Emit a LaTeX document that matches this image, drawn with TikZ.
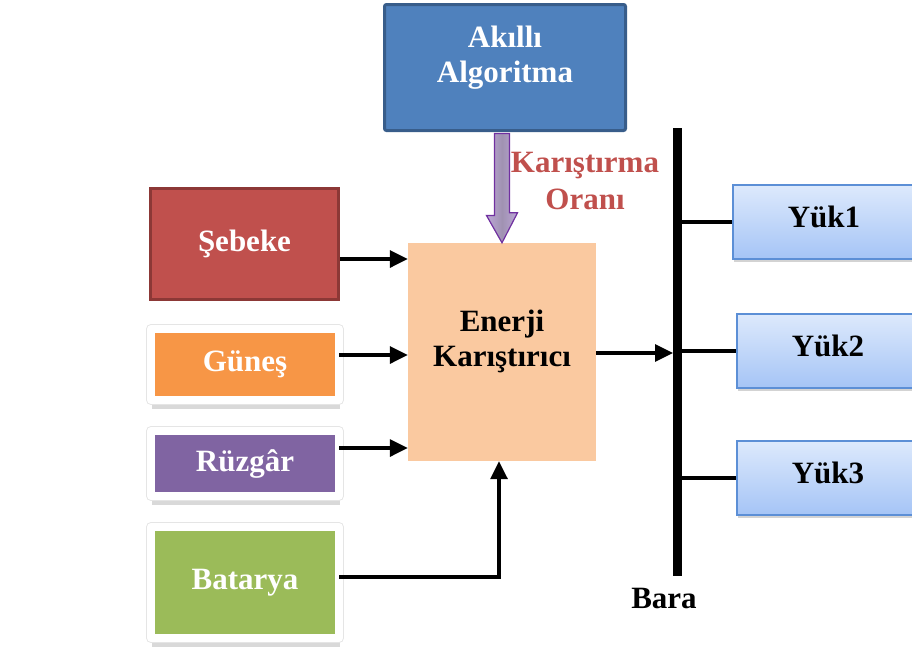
\documentclass[tikz,border=0pt]{standalone}
\usepackage{fontspec}
\setmainfont{Liberation Serif}
\usetikzlibrary{arrows.meta, shadows}
\definecolor{algoBlue}{RGB}{79, 129, 189}
\definecolor{algoEdge}{RGB}{56, 93, 138}
\definecolor{gridRed}{RGB}{192, 80, 77}
\definecolor{gridEdge}{RGB}{140, 56, 54}
\definecolor{sunOrange}{RGB}{247, 150, 70}
\definecolor{windPurple}{RGB}{128, 100, 162}
\definecolor{battGreen}{RGB}{155, 187, 89}
\definecolor{mixPeach}{RGB}{250, 201, 160}
\definecolor{ratioLight}{RGB}{188, 167, 214}
\definecolor{ratioDark}{RGB}{160, 146, 178}
\definecolor{ratioEdge}{RGB}{112, 48, 160}
\definecolor{loadTop}{RGB}{221, 233, 252}
\definecolor{loadBottom}{RGB}{165, 196, 246}
\definecolor{loadEdge}{RGB}{92, 143, 214}

\begin{document}
\begin{tikzpicture}[x=1pt, y=-1pt,
        font=\fontsize{31}{35}\selectfont\bfseries,
        box/.style={rectangle, inner sep=0pt, align=center},
        source/.style={box, text=white, draw=white, line width=8pt, line join=round, outer sep=0pt,
            minimum width=188pt, drop shadow={shadow xshift=1pt, shadow yshift=-8.5pt, opacity=.3},
            preaction={draw=black!10, line width=10pt, line join=round}},
        load/.style={box, top color=loadTop, bottom color=loadBottom, draw=loadEdge, line width=1.5pt,
            minimum width=182pt, minimum height=74pt, text depth=10pt,
            drop shadow={shadow xshift=1pt, shadow yshift=-3pt, opacity=.35}},
        flow/.style={line width=3.3pt, -{Triangle[length=18pt, width=17pt]}}]
        \useasboundingbox (0,0) rectangle (912,648);
        \clip (0,0) rectangle (912,648);
        \node[box, fill=algoBlue, draw=algoEdge, line width=3pt, rounded corners=2pt, minimum width=241pt, minimum height=126pt,
            label={[text=white, align=center, yshift=10pt]center:Akıllı\\Algoritma}] (alg) at (505,67.5) {};
        \node[box, fill=gridRed, draw=gridEdge, line width=3pt, text=white, minimum width=188pt, minimum height=111pt] (seb) at (244.5,244) {Şebeke};
        \node[source, fill=sunOrange, minimum height=71pt] (gun) at (245,364.5) {Güneş};
        \node[source, fill=windPurple, minimum height=65pt] (ruz) at (245,463.5) {Rüzgâr};
        \node[source, fill=battGreen, minimum height=111pt] (bat) at (245,582.5) {Batarya};
        \node[box, fill=mixPeach, minimum width=188pt, minimum height=218pt,
            label={[align=center, yshift=11pt]center:Enerji\\Karıştırıcı}] (mix) at (502,352) {};
        \node[text=gridRed, align=center, font=\fontsize{31}{37}\selectfont\bfseries] (oran) at (585,181) {Karıştırma\\Oranı};
        \node[load] (yuk1) at (824,222) {Yük1};
        \node[load] (yuk2) at (828,351) {Yük2};
        \node[load] (yuk3) at (828,478) {Yük3};
        \coordinate (bt) at (677.5,128);
        \coordinate (bb) at (677.5,576);
        \node (bara) at (664,598) {Bara};
        \draw[ratioEdge, line width=1.2pt, line join=miter, left color=ratioLight, right color=ratioLight, middle color=ratioDark]
            ([xshift=-7.5pt, yshift=-1.5pt]alg.south -| mix.north) -- ++(0,82) -- ++(-8,0) -- (mix.north)
            -- ++(15.5,-30) -- ++(-8,0) -- ([xshift=7.5pt, yshift=-1.5pt]alg.south -| mix.north) -- cycle;
        \draw[flow] ([yshift=-15pt]seb.east) -- ([yshift=-15pt]seb.east -| mix.west);
        \draw[flow] ([yshift=9.5pt]gun.east) -- ([yshift=9.5pt]gun.east -| mix.west);
        \draw[flow] ([yshift=15.5pt]ruz.east) -- ([yshift=15.5pt]ruz.east -| mix.west);
        \draw[flow] ([yshift=5.5pt]bat.east) -| ([xshift=-3pt]mix.south);
        \draw[flow, shorten >=4.5pt] ([yshift=-1pt]mix.east) -- ([yshift=-1pt]mix.east -| bt);
        \draw[line width=9pt] (bt) -- (bb);
        \draw[line width=3.5pt] (bt |- yuk1.west) -- (yuk1.west);
        \draw[line width=3.5pt] (bt |- yuk2.west) -- (yuk2.west);
        \draw[line width=3.5pt] (bt |- yuk3.west) -- (yuk3.west);
      \end{tikzpicture}
\end{document}
